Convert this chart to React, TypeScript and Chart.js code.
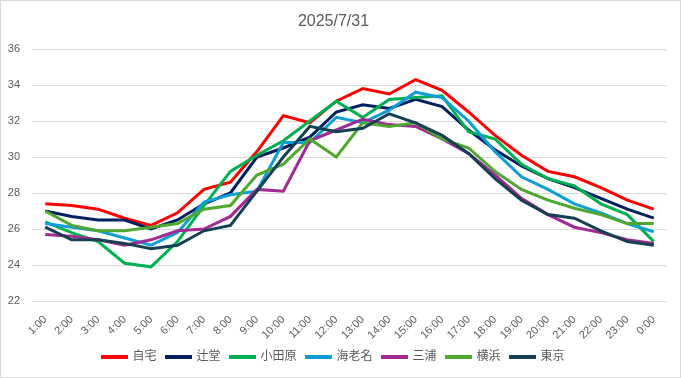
import React, { useEffect, useRef } from "react";
import { Chart, registerables } from "chart.js";

Chart.register(...registerables);

const hours = [
  "1:00", "2:00", "3:00", "4:00", "5:00", "6:00", "7:00", "8:00", "9:00", "10:00", "11:00", "12:00",
  "13:00", "14:00", "15:00", "16:00", "17:00", "18:00", "19:00", "20:00", "21:00", "22:00", "23:00", "0:00",
];

const jitaku = [27.4, 27.3, 27.1, 26.6, 26.2, 26.9, 28.2, 28.6, 30.3, 32.3, 31.9, 33.1, 33.8, 33.5, 34.3, 33.7, 32.5, 31.2, 30.1, 29.2, 28.9, 28.3, 27.6, 27.1];
const tsujido = [27.0, 26.7, 26.5, 26.5, 26.0, 26.5, 27.4, 28.0, 30.0, 30.5, 31.1, 32.5, 32.9, 32.7, 33.2, 32.8, 31.5, 30.4, 29.5, 28.8, 28.3, 27.7, 27.1, 26.6];
const odawara = [26.4, 25.8, 25.3, 24.1, 23.9, 25.3, 27.3, 29.2, 30.1, 30.9, 32.0, 33.1, 32.2, 33.2, 33.3, 33.4, 31.4, 31.0, 29.6, 28.8, 28.4, 27.4, 26.8, 25.3];
const ebina = [26.3, 26.1, 25.9, 25.5, 25.1, 25.8, 27.5, 27.9, 28.1, 30.8, 30.8, 32.2, 31.9, 32.6, 33.6, 33.3, 32.0, 30.3, 28.9, 28.2, 27.4, 26.9, 26.3, 25.85];
const miura = [25.7, 25.6, 25.4, 25.1, 25.4, 25.9, 26.0, 26.7, 28.2, 28.1, 30.9, 31.5, 32.1, 31.8, 31.7, 31.0, 30.2, 29.0, 27.7, 26.8, 26.1, 25.8, 25.4, 25.2];
const yokohama = [27.0, 26.2, 25.9, 25.9, 26.1, 26.3, 27.1, 27.3, 29.0, 29.6, 31.0, 30.0, 31.9, 31.7, 31.9, 31.0, 30.5, 29.2, 28.2, 27.6, 27.15, 26.8, 26.3, 26.3];
const tokyo = [26.1, 25.4, 25.4, 25.2, 24.9, 25.1, 25.9, 26.2, 28.1, 30.0, 31.7, 31.4, 31.6, 32.4, 31.9, 31.2, 30.2, 28.8, 27.6, 26.8, 26.6, 25.9, 25.3, 25.1];

const seriesNames = ["自宅", "辻堂", "小田原", "海老名", "三浦", "横浜", "東京"];
const seriesValues = [jitaku, tsujido, odawara, ebina, miura, yokohama, tokyo];
const seriesColors = ["#FF0000", "#002060", "#00B050", "#0F9ED5", "#A02B93", "#4EA72E", "#153F52"];

const chartTitle = "2025/7/31";
const yMin = 22;
const yMax = 36;
const yStep = 2;

const FONT = "'Liberation Sans', 'Noto Sans CJK JP', Arial, sans-serif";
const TEXT = "#595959";
const GRID = "#D9D9D9";

const framePlugin = {
  id: "frame",
  beforeDraw(chart: any) {
    const { ctx, width, height } = chart;
    ctx.save();
    ctx.fillStyle = "#FFFFFF";
    ctx.fillRect(0, 0, width, height);
    ctx.strokeStyle = GRID;
    ctx.lineWidth = 1;
    ctx.strokeRect(0.5, 0.5, width - 1, height - 1);
    ctx.restore();
  },
};

export default function App() {
  const ref = useRef<HTMLCanvasElement | null>(null);

  useEffect(() => {
    document.body.style.margin = "0";
    if (!ref.current) return;
    const n = seriesNames.length;
    const chart = new Chart(ref.current, {
      type: "line",
      data: {
        labels: hours,
        datasets: seriesNames.map((name, i) => ({
          label: name,
          data: seriesValues[i],
          borderColor: seriesColors[i],
          backgroundColor: seriesColors[i],
          borderWidth: 3,
          pointRadius: 0,
          pointHoverRadius: 0,
          tension: 0,
          fill: false,
          order: n - 1 - i,
        })),
      },
      options: {
        animation: false,
        responsive: true,
        maintainAspectRatio: false,
        layout: { padding: { top: 0, left: 0, right: 14, bottom: 5 } },
        plugins: {
          title: {
            display: true,
            text: chartTitle,
            color: TEXT,
            font: { family: FONT, size: 16, weight: "normal" as any },
            padding: { top: 12, bottom: 17.8 },
          },
          legend: {
            position: "bottom",
            labels: {
              color: TEXT,
              font: { family: FONT, size: 12 },
              boxWidth: 24,
              boxHeight: 1,
              padding: 10,
              sort: (a: any, b: any) => a.datasetIndex - b.datasetIndex,
            },
          },
          tooltip: { enabled: false },
        },
        scales: {
          x: {
            offset: true,
            grid: { display: false, drawTicks: false },
            border: { display: false },
            ticks: {
              color: TEXT,
              font: { family: FONT, size: 11 },
              minRotation: 45,
              maxRotation: 45,
              autoSkip: false,
              padding: 12,
            },
            afterFit(scale: any) {
              scale.height = 40;
            },
          },
          y: {
            min: yMin,
            max: yMax,
            grid: { color: GRID, lineWidth: 1, drawTicks: false },
            border: { display: false },
            ticks: {
              stepSize: yStep,
              color: TEXT,
              font: { family: FONT, size: 11 },
              padding: 12,
            },
            afterFit(scale: any) {
              scale.width = 32;
            },
          },
        },
      },
      plugins: [framePlugin],
    });
    return () => chart.destroy();
  }, []);

  return (
    <div style={{ width: 681, height: 378, position: "relative" }}>
      <canvas ref={ref} />
    </div>
  );
}
